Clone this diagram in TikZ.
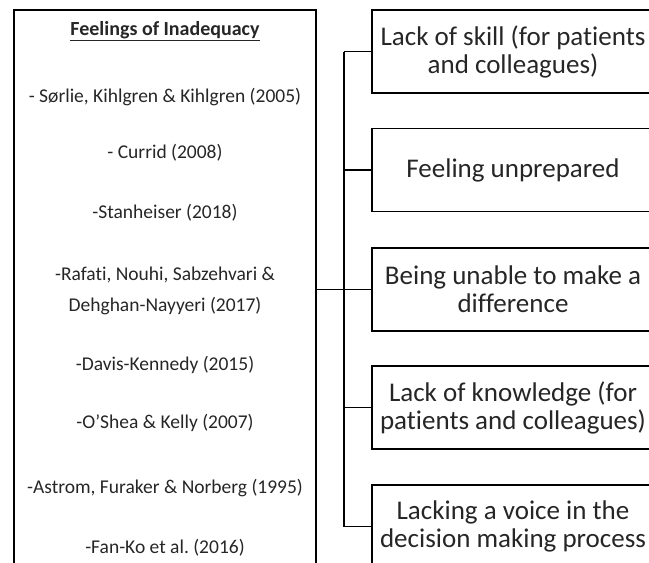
\documentclass[tikz,border=0pt]{standalone}
\usepackage{fontspec}
\setmainfont{Carlito}[Ligatures={TeX,NoCommon}]
\frenchspacing
\begin{document}
\begin{tikzpicture}[x=1pt,y=-1pt,
  frame/.style={draw=black,line width=1.6pt,outer sep=0pt},
  reftext/.style={font=\fontsize{19.5}{23}\selectfont,text=black!85,inner sep=0pt},
  theme/.style={frame,anchor=west,minimum width=282pt,minimum height=83pt,align=center,
    font=\fontsize{27}{28}\selectfont,text=black!85,inner sep=0pt},
  link/.style={line width=1.6pt}]
\useasboundingbox (0,0) rectangle (649,563);
\clip (0,0) rectangle (649,563);
% left literature box
\node[frame,anchor=north west,minimum width=302pt,minimum height=600pt] (lit) at (14,10) {};
\node[reftext,font=\fontsize{20}{23}\selectfont] (t0) at (165,31) {\underline{\textbf{Feelings of Inadequacy}}};
\node[reftext] (t1) at (165,97) {- Sørlie, Kihlgren \& Kihlgren (2005)};
\node[reftext] (t2) at (165,153) {- Currid (2008)};
\node[reftext] (t3) at (165,213) {-Stanheiser (2018)};
\node[reftext] (t4) at (165,275) {-Rafati, Nouhi, Sabzehvari \&};
\node[reftext] (t5) at (165,306) {Dehghan-Nayyeri (2017)};
\node[reftext] (t6) at (165,365) {-Davis-Kennedy (2015)};
\node[reftext] (t7) at (165,423) {-O’Shea \& Kelly (2007)};
\node[reftext] (t8) at (165,488) {-Astrom, Furaker \& Norberg (1995)};
\node[reftext] (t9) at (165,548) {-Fan-Ko et al. (2016)};
% theme boxes
\node[theme] (b1) at (372,51.5) {Lack of skill (for patients\\and colleagues)};
\node[theme] (b2) at (372,170) {Feeling unprepared};
\node[theme] (b3) at (372,289.5) {Being unable to make a\\difference};
\node[theme] (b4) at (372,407.5) {Lack of knowledge (for\\patients and colleagues)};
\node[theme] (b5) at (372,526.5) {Lacking a voice in the\\decision making process};
% bracket
\coordinate (bt) at (344,51.5);
\coordinate (bb) at (344,526.5);
\coordinate (bm) at (344,289.5);
\draw[link] (bt) -- (bb);
\draw[link] (lit.east |- bm) -- (bm);
\foreach \i in {1,...,5} \draw[link] (bt |- b\i.west) -- (b\i.west);
\end{tikzpicture}
\end{document}
